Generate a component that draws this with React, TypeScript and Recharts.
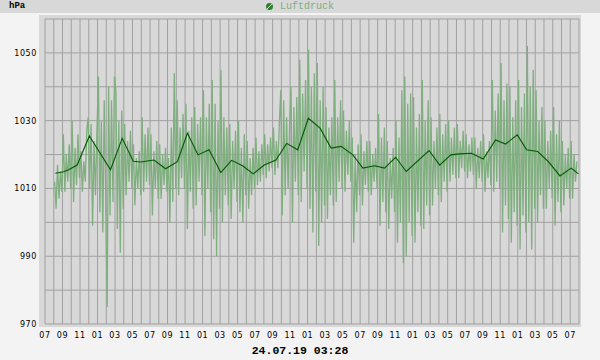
import React from 'react';
import { LineChart, Line, XAxis, YAxis, CartesianGrid } from 'recharts';

// hours since 07:00 on the first day
const hourTicks = [
  0, 1, 2, 3, 4, 5, 6, 7, 8, 9, 10, 11, 12, 13, 14, 15, 16, 17, 18, 19, 20,
  21, 22, 23, 24, 25, 26, 27, 28, 29, 30, 31, 32, 33, 34, 35, 36, 37, 38, 39, 40,
  41, 42, 43, 44, 45, 46, 47, 48, 49, 50, 51, 52, 53, 54, 55, 56, 57, 58, 59, 60, 61,
];
const hourLabels = [
  '07', '09', '11', '01', '03', '05', '07', '09', '11', '01', '03', '05',
  '07', '09', '11', '01', '03', '05', '07', '09', '11', '01', '03', '05',
  '07', '09', '11', '01', '03', '05', '07',
];
const pressureTicks = [970, 980, 990, 1000, 1010, 1020, 1030, 1040, 1050, 1060];
const pressureLabels = [970, 990, 1010, 1030, 1050];

// raw pressure samples (every 10 minutes starting at 1.1 h)
const rawStart = 1.1;
const rawStep = 1 / 6;
const rawValues = [
  1012, 1004, 1017, 1007, 1015, 1009,
  1026, 1009, 1020, 1012, 1023, 1010,
  1030, 1006, 1022, 1011, 1026, 1013,
  1021, 1009, 1018, 1012, 1027, 1031,
  1010, 1029, 999, 1024, 1008, 1027,
  1043, 1003, 1030, 997, 1036, 1008,
  975, 1040, 1002, 1036, 1006, 1043,
  1039, 998, 1030, 991, 1033, 1004,
  1029, 1008, 1024, 1012, 1027, 1010,
  1023, 1005, 1019, 1010, 1021, 1008,
  1031, 1009, 1026, 1012, 1028, 1011,
  1026, 1002, 1021, 1010, 1024, 1007,
  1023, 1007, 1020, 1011, 1022, 1009,
  1019, 1000, 1028, 1006, 1044, 1010,
  1036, 1008, 1028, 1013, 1032, 1010,
  1035, 998, 1027, 1009, 1031, 1004,
  1034, 1005, 1029, 1012, 1031, 1008,
  1039, 996, 1031, 1010, 1035, 1003,
  1042, 995, 1035, 990, 1030, 1004,
  1045, 1000, 1031, 1008, 1028, 1005,
  1029, 1001, 1024, 1010, 1027, 1006,
  1030, 1003, 1022, 1000, 1026, 1008,
  1024, 1004, 1019, 1008, 1022, 1010,
  1025, 1011, 1021, 1012, 1023, 1014,
  1026, 1013, 1023, 1015, 1025, 1016,
  1028, 1014, 1024, 1016, 1029, 1039,
  1002, 1036, 1008, 1031, 1010, 1028,
  1040, 1000, 1034, 1012, 1037, 1008,
  1048, 1006, 1038, 1015, 1042, 1010,
  1051, 1004, 1040, 997, 1044, 1009,
  1047, 993, 1036, 1000, 1040, 1005,
  1034, 1001, 1028, 1008, 1031, 1005,
  1042, 1006, 1031, 1012, 1036, 1010,
  1033, 1009, 1027, 1014, 1030, 1012,
  1025, 994, 1020, 1003, 1023, 1008,
  1026, 1005, 1021, 1011, 1024, 1009,
  1024, 1008, 1020, 1012, 1022, 1010,
  1032, 999, 1025, 1006, 1028, 1003,
  1024, 998, 1019, 1007, 1022, 1003,
  1030, 994, 1025, 1000, 1039, 988,
  1043, 990, 1035, 1000, 1038, 996,
  1037, 994, 1028, 1003, 1032, 999,
  1042, 998, 1030, 1005, 1036, 1002,
  1031, 1005, 1024, 1010, 1028, 1008,
  1032, 1006, 1026, 1012, 1029, 1009,
  1030, 1012, 1025, 1014, 1028, 1013,
  1029, 1013, 1024, 1016, 1027, 1015,
  1026, 1013, 1023, 1015, 1025, 1014,
  1025, 1010, 1022, 1013, 1024, 1012,
  1026, 1009, 1021, 1013, 1024, 1011,
  1042, 1009, 1033, 1012, 1038, 1010,
  1047, 997, 1036, 1005, 1041, 1001,
  1040, 994, 1031, 1003, 1036, 999,
  1042, 992, 1034, 1002, 1038, 997,
  1052, 1000, 1040, 992, 1045, 1004,
  1039, 1000, 1030, 1008, 1034, 1004,
  1030, 1004, 1024, 1010, 1027, 1007,
  1034, 999, 1026, 1006, 1030, 1003,
  1024, 1005, 1020, 1010, 1022, 1007,
  1024, 1007, 1020, 1012, 1018,
];

// smoothed pressure
const avgTimes = [
  1.18, 2.13, 2.7, 3.67, 5.07, 7.48, 8.82, 10.08, 10.92, 12.44, 13.78, 15.12,
  16.27, 17.48, 18.74, 20.08, 21.31, 22.57, 23.78, 25.04, 26.38, 27.61, 28.87,
  30.08, 31.42, 32.68, 33.83, 35.17, 36.31, 37.64, 38.79, 40.05, 41.27, 43.87,
  45.09, 46.35, 47.38, 48.72, 50.06, 51.47, 52.61, 53.95, 55.02, 56.28, 57.5,
  58.83, 60.1, 60.95,
];
const avgValues = [
  1014.5, 1014.9, 1015.5, 1016.9, 1025.5, 1015.5, 1024.8, 1018.0, 1017.8, 1018.4,
  1015.8, 1017.9, 1026.3, 1019.9, 1021.4, 1014.7, 1018.3, 1016.7, 1014.3, 1016.9,
  1018.4, 1023.3, 1021.4, 1030.7, 1027.8, 1021.9, 1022.4, 1019.9, 1016.0, 1016.7,
  1016.0, 1019.2, 1015.0, 1021.2, 1016.9, 1019.9, 1020.2, 1020.4, 1018.7, 1024.3,
  1023.1, 1025.8, 1021.4, 1020.9, 1017.9, 1013.7, 1016.0, 1014.3,
];

const rawData = rawValues.map((v, i) => ({ h: rawStart + i * rawStep, p: v }));
const avgData = avgTimes.map((t, i) => ({ h: t, p: avgValues[i] }));

const XTick = (props: any) => {
  const { x, y, payload } = props;
  const v = payload.value;
  if (v % 2 !== 0) return null;
  const label = hourLabels[v / 2];
  if (!label) return null;
  return (
    <text x={x} y={y + 14} textAnchor="middle" fontSize={8} fontFamily="DejaVu Sans" fill="#000" letterSpacing={0.6}>
      {label}
    </text>
  );
};

const YTick = (props: any) => {
  const { x, y, payload } = props;
  if (!pressureLabels.includes(payload.value)) return null;
  return (
    <text x={x - 8} y={y + 3} textAnchor="end" fontSize={8} fontFamily="DejaVu Sans" fill="#000" letterSpacing={0.6}>
      {payload.value}
    </text>
  );
};

export default function App() {
  return (
    <div style={{ position: 'absolute', left: 0, top: 0, width: 600, height: 360, background: '#f3f3f3', overflow: 'hidden' }}>
      <div style={{ position: 'absolute', left: 0, top: 0, width: 600, height: 13, background: '#d8d8d8' }} />
      <div style={{ position: 'absolute', left: 9, top: 0, fontFamily: 'Liberation Mono', fontWeight: 'bold', fontSize: 9, lineHeight: '12px', color: '#000' }}>hPa</div>
      <div style={{ position: 'absolute', left: 265, top: 0, height: 12, display: 'flex', alignItems: 'center' }}>
        <svg width={9} height={9} style={{ marginRight: 6 }}>
          <circle cx={4.5} cy={4.5} r={3.5} fill="#2f7f2f" />
          <line x1={1.5} y1={7.5} x2={7.5} y2={1.5} stroke="#d8d8d8" strokeWidth={1} />
        </svg>
        <span style={{ fontFamily: 'Liberation Mono', fontSize: 10, color: '#7fae7f' }}>Luftdruck</span>
      </div>
      <div style={{ position: 'absolute', left: 39, top: 15, width: 542, height: 312, background: '#d8d8d8' }} />
      <div style={{ position: 'absolute', left: 0, top: 0 }}>
        <LineChart width={600} height={360} margin={{ top: 19, right: 21, bottom: 0, left: 0 }}>
          <CartesianGrid stroke="#a0a0a0" fill="#d8d8d8" vertical horizontal />
          <XAxis
            dataKey="h"
            type="number"
            domain={[0, 61]}
            ticks={hourTicks}
            interval={0}
            allowDataOverflow
            axisLine={false}
            tickLine={false}
            tickSize={0}
            tickMargin={0}
            height={36}
            tick={<XTick />}
          />
          <YAxis
            type="number"
            domain={[970, 1060]}
            ticks={pressureTicks}
            interval={0}
            allowDataOverflow
            axisLine={false}
            tickLine={false}
            tickSize={0}
            tickMargin={0}
            width={45}
            tick={<YTick />}
          />
          <Line data={rawData} dataKey="p" type="linear" stroke="#7fae7f" strokeWidth={1.3} dot={false} isAnimationActive={false} />
          <Line data={avgData} dataKey="p" type="linear" stroke="#005a00" strokeWidth={1.1} dot={false} isAnimationActive={false} />
        </LineChart>
      </div>
      <div style={{ position: 'absolute', left: 0, width: 600, top: 344, textAlign: 'center', fontFamily: 'Liberation Mono', fontWeight: 'bold', fontSize: 11.5, color: '#000' }}>
        24.07.19 03:28
      </div>
    </div>
  );
}
